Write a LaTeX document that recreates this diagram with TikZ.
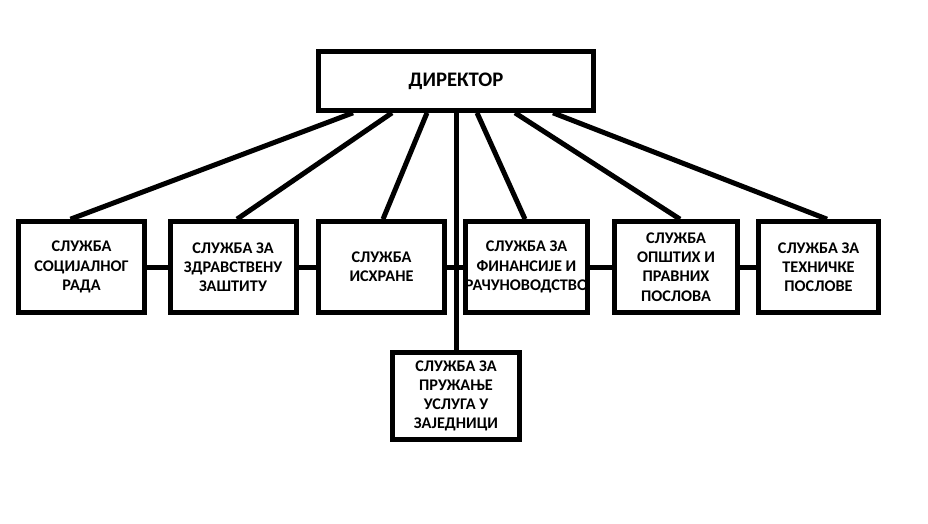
\documentclass[tikz,border=0pt]{standalone}
\usepackage{fontspec}
\setmainfont{Carlito}
\usetikzlibrary{calc}
\tikzset{unit/.style={draw,line width=3.75pt,minimum width=94.5pt,minimum height=68pt,inner sep=1pt,align=center,font=\bfseries\fontsize{12.2}{14.4}\selectfont}}
\begin{document}
\begin{tikzpicture}[x=0.75pt,y=-0.75pt,line width=3.75pt]
\useasboundingbox (0,0) rectangle (928,524);
\node[unit,minimum width=206pt,minimum height=44pt,font=\bfseries\fontsize{15.5}{18}\selectfont](d) at (456,81){ДИРЕКТОР};
\node[unit](b1) at (81.5,267){СЛУЖБА\\СОЦИЈАЛНОГ\\РАДА};
\node[unit](b2) at (233,267){СЛУЖБА ЗА\\ЗДРАВСТВЕНУ\\ЗАШТИТУ};
\node[unit](b3) at (381.5,267){СЛУЖБА\\ИСХРАНЕ};
\node[unit,minimum width=91.5pt](b4) at (526.5,267){СЛУЖБА ЗА\\ФИНАНСИЈЕ И\\\makebox[0pt]{РАЧУНОВОДСТВО}};
\node[unit,minimum width=92pt](b5) at (676,267){СЛУЖБА\\ОПШТИХ И\\ПРАВНИХ\\ПОСЛОВА};
\node[unit,minimum width=90pt](b6) at (818.5,267){СЛУЖБА ЗА\\ТЕХНИЧКЕ\\ПОСЛОВЕ};
\node[unit,minimum width=95pt,minimum height=65pt](b7) at (456,396){СЛУЖБА ЗА\\ПРУЖАЊЕ\\УСЛУГА У\\ЗАЈЕДНИЦИ};
\draw ($(d.south)+(-103,0)$) -- ($(b1.north)+(-11,0)$);
\draw ($(d.south)+(-64,0)$) -- ($(b2.north)+(4,0)$);
\draw ($(d.south)+(-29,0)$) -- ($(b3.north)+(1.5,0)$);
\draw (d.south) -- (b7.north);
\draw ($(d.south)+(21,0)$) -- ($(b4.north)+(-1.5,0)$);
\draw ($(d.south)+(59,0)$) -- ($(b5.north)+(4,0)$);
\draw ($(d.south)+(97,0)$) -- ($(b6.north)+(8.5,0)$);
\path (b1) edge (b2) (b2) edge (b3) (b3) edge (b4) (b4) edge (b5) (b5) edge (b6);
\end{tikzpicture}
\end{document}
